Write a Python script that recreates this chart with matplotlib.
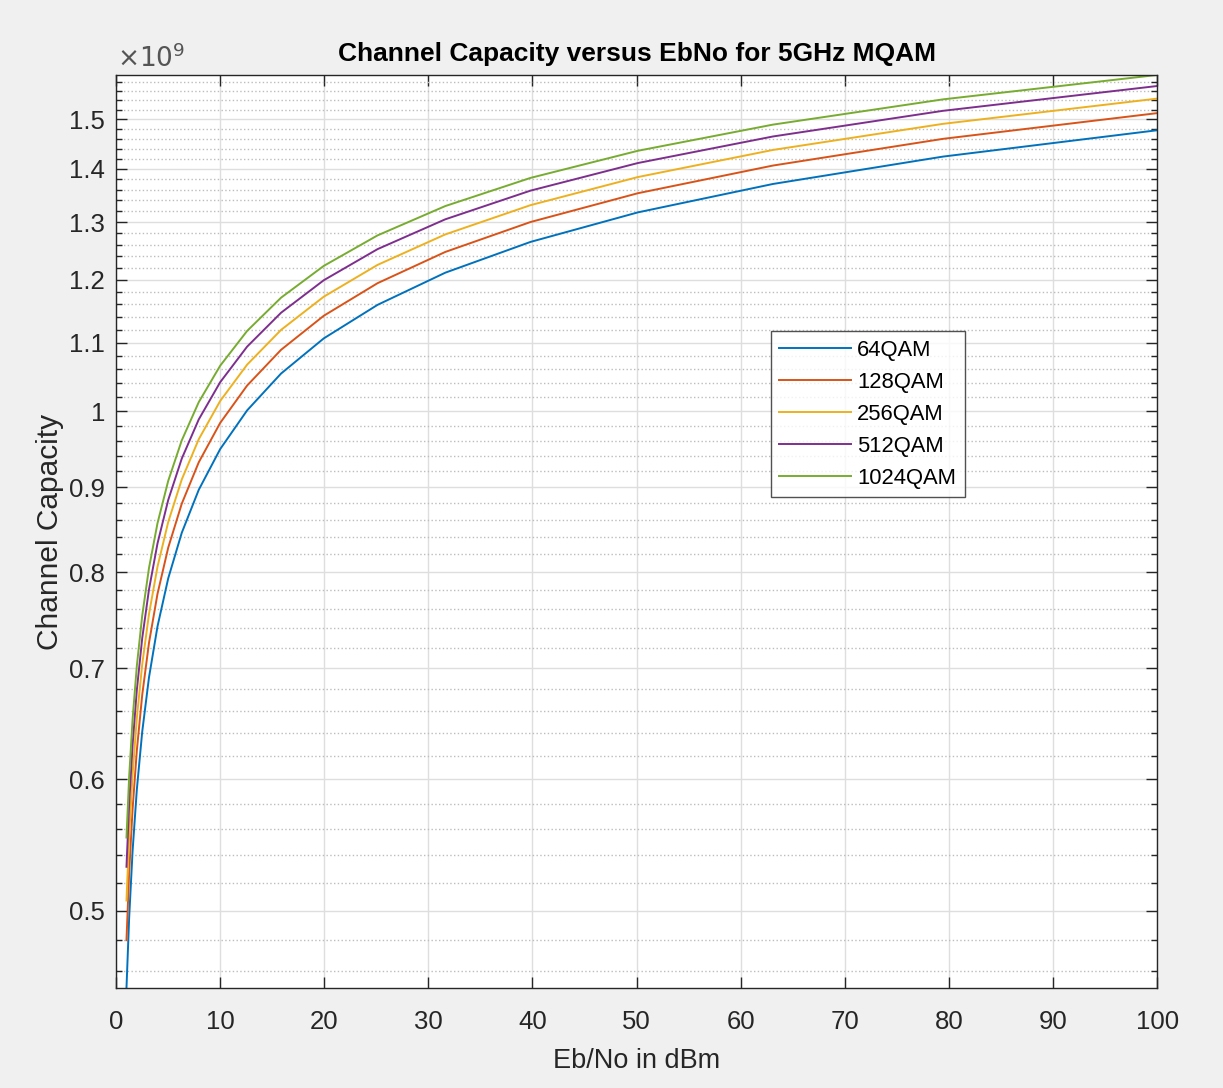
import matplotlib
matplotlib.use("Agg")
import matplotlib.pyplot as plt
from matplotlib.ticker import FixedLocator, FuncFormatter, NullFormatter, NullLocator

plt.rcParams['font.family'] = ['Liberation Sans', 'DejaVu Sans']

# Eb/No sample points
ebno = [1.0, 1.2589, 1.5849, 1.9953, 2.5119, 3.1623, 3.9811, 5.0119, 6.3096, 7.9433,
        10.0, 12.589, 15.849, 19.953, 25.119, 31.623, 39.811, 50.119, 63.096, 79.433, 100.0]

# channel capacity (units of 1e9)
cap_64 = [0.4492, 0.4954, 0.5430, 0.5916, 0.6410, 0.6912, 0.7420, 0.7932, 0.8448, 0.8968,
          0.9489, 1.0013, 1.0538, 1.1065, 1.1592, 1.2121, 1.2650, 1.3179, 1.3709, 1.4240, 1.4770]
cap_128 = [0.4800, 0.5271, 0.5754, 0.6246, 0.6746, 0.7251, 0.7763, 0.8277, 0.8796, 0.9317,
           0.9840, 1.0364, 1.0891, 1.1418, 1.1946, 1.2475, 1.3004, 1.3534, 1.4064, 1.4595, 1.5125]
cap_256 = [0.5072, 0.5550, 0.6038, 0.6535, 0.7038, 0.7547, 0.8061, 0.8577, 0.9097, 0.9620,
           1.0144, 1.0669, 1.1196, 1.1724, 1.2253, 1.2782, 1.3312, 1.3841, 1.4372, 1.4902, 1.5433]
cap_512 = [0.5315, 0.5799, 0.6292, 0.6792, 0.7298, 0.7809, 0.8325, 0.8843, 0.9364, 0.9888,
           1.0412, 1.0939, 1.1466, 1.1995, 1.2524, 1.3053, 1.3583, 1.4113, 1.4643, 1.5174, 1.5705]
cap_1024 = [0.5535, 0.6023, 0.6519, 0.7023, 0.7531, 0.8045, 0.8562, 0.9081, 0.9604, 1.0128,
            1.0653, 1.1180, 1.1708, 1.2236, 1.2765, 1.3295, 1.3825, 1.4355, 1.4886, 1.5417, 1.5948]

labels = ['64QAM', '128QAM', '256QAM', '512QAM', '1024QAM']
series = [cap_64, cap_128, cap_256, cap_512, cap_1024]
colors = ['#0072BD', '#D95319', '#EDB120', '#7E2F8E', '#77AC30']

y_major = [0.5, 0.6, 0.7, 0.8, 0.9, 1.0, 1.1, 1.2, 1.3, 1.4, 1.5]
y_minor = [0.46, 0.48] + [round(0.5 + 0.02 * k, 2) for k in range(1, 55) if (k % 5) != 0]
x_major = [0, 10, 20, 30, 40, 50, 60, 70, 80, 90, 100]

scale = 1e9
edge = '#262626'

fig = plt.figure(figsize=(12.23, 10.88), dpi=100, facecolor='#f0f0f0')
ax = fig.add_axes([0.0949, 0.0919, 0.8512, 0.8392])
ax.set_facecolor('white')

for vals, lab, col in zip(series, labels, colors):
    ax.plot(ebno, [v * scale for v in vals], color=col, lw=1.4, label=lab)

ax.set_yscale('log')
ax.set_xlim(0, 100)
ax.set_ylim(min(cap_64) * scale, max(cap_1024) * scale)

ax.xaxis.set_major_locator(FixedLocator(x_major))
ax.xaxis.set_minor_locator(NullLocator())
ax.yaxis.set_major_locator(FixedLocator([v * scale for v in y_major]))
ax.yaxis.set_minor_locator(FixedLocator([v * scale for v in y_minor]))
ax.yaxis.set_major_formatter(FuncFormatter(lambda v, p: '%g' % round(v / scale, 2)))
ax.yaxis.set_minor_formatter(NullFormatter())

ax.grid(True, which='major', color='#dedede', lw=1.0, ls='-')
ax.grid(True, which='minor', axis='y', color='#bdbdbd', lw=1.0, ls=(0, (1, 1.7)))
ax.set_axisbelow(True)

ax.tick_params(which='both', direction='in', top=True, right=True, colors=edge,
               labelsize=18.5)
ax.tick_params(axis='x', pad=16)
ax.tick_params(axis='y', pad=8)
ax.tick_params(which='major', length=8, width=1.0)
ax.tick_params(which='minor', length=4.5, width=1.0)
for s in ax.spines.values():
    s.set_color(edge)
    s.set_linewidth(1.0)

ax.set_title('Channel Capacity versus EbNo for 5GHz MQAM', fontsize=19,
             fontweight='bold', color='black', pad=10)
ax.set_xlabel('Eb/No in dBm', fontsize=19.5, color=edge, labelpad=10)
ax.set_ylabel('Channel Capacity', fontsize=21.5, color=edge, labelpad=4)

fig.text(0.0955, 0.9385, r'$\times10^{9}$', fontsize=19, color='#555555',
         ha='left', va='baseline', math_fontfamily='dejavusans')

leg = ax.legend(loc='upper left', bbox_to_anchor=(0.629, 0.7195), fontsize=15.8,
                frameon=True, fancybox=False, edgecolor=edge, handlelength=3.25,
                handletextpad=0.3, borderpad=0.39, labelspacing=0.5, borderaxespad=0)
leg.get_frame().set_linewidth(1.0)

fig.savefig('out.png', dpi=100, facecolor=fig.get_facecolor())
